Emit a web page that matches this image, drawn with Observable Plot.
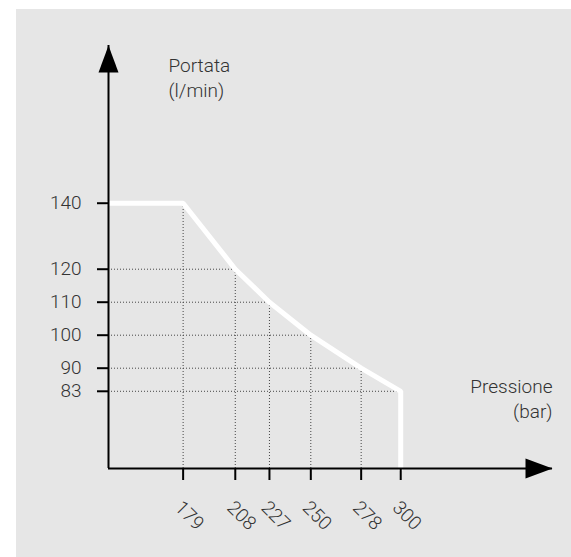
<!DOCTYPE html>
<html><head><meta charset="utf-8">
<script src="https://cdn.jsdelivr.net/npm/d3@7"></script>
<script src="https://cdn.jsdelivr.net/npm/@observablehq/plot@0.6"></script>
<style>
html,body{margin:0;padding:0;background:#fff;}
#chart{position:absolute;left:16px;top:9px;}
#chart svg text{font-weight:300}
</style></head><body><div id="chart"></div>
<script>
const pressione = [179, 208, 227, 250, 278, 300];
const portata = [140, 120, 110, 100, 90, 83];
const xTicks = [179, 208, 227, 250, 278, 300];
const yTicks = [140, 120, 110, 100, 90, 83];
const xTitle = ["Pressione", "(bar)"];
const yTitle = ["Portata", "(l/min)"];
const xDomain = [137.5, 384.4];
const yDomain = [59.6, 187.8];

const pts = pressione.map((p, i) => ({p, q: portata[i]}));
const curve = [{p: xDomain[0], q: portata[0]}, ...pts, {p: pressione[pressione.length - 1], q: yDomain[0]}];

const arrowUp = {draw(ctx) { ctx.moveTo(0, 0); ctx.lineTo(10, 27); ctx.lineTo(-10, 27); ctx.closePath(); }};
const arrowRight = {draw(ctx) { ctx.moveTo(0, 0); ctx.lineTo(-27, -10); ctx.lineTo(-27, 10); ctx.closePath(); }};

const chart = Plot.plot({
  width: 555,
  height: 548,
  marginLeft: 92,
  marginRight: 19,
  marginTop: 36,
  marginBottom: 89,
  style: {background: "#e6e6e6", fontFamily: "Roboto", fontSize: "19px", color: "#333", overflow: "visible"},
  x: {domain: xDomain, axis: null},
  y: {domain: yDomain, axis: null},
  marks: [
    Plot.ruleY(pts, {y: "q", x1: xDomain[0], x2: "p", stroke: "#444", strokeWidth: 1, strokeDasharray: "1,2"}),
    Plot.ruleX(pts, {x: "p", y1: yDomain[0], y2: "q", stroke: "#444", strokeWidth: 1, strokeDasharray: "1,2"}),
    Plot.line(curve, {x: "p", y: "q", stroke: "white", strokeWidth: 5, strokeLinejoin: "miter"}),
    Plot.ruleX([xDomain[0]], {y1: yDomain[0], y2: yDomain[1], stroke: "black", strokeWidth: 2}),
    Plot.ruleY([yDomain[0]], {x1: xDomain[0], x2: xDomain[1], stroke: "black", strokeWidth: 2}),
    Plot.dot([{p: xDomain[0], q: yDomain[1]}], {x: "p", y: "q", symbol: arrowUp, fill: "black", stroke: null}),
    Plot.dot([{p: xDomain[1], q: yDomain[0]}], {x: "p", y: "q", symbol: arrowRight, fill: "black", stroke: null}),
    Plot.axisY(yTicks, {anchor: "left", tickSize: 11, tickPadding: 16, stroke: "black", strokeWidth: 2, fill: "#333", fontSize: 19, label: null}),
    Plot.axisX(xTicks, {anchor: "bottom", tickSize: 12, tickFormat: () => "", stroke: "black", strokeWidth: 2, label: null}),
    Plot.axisX(xTicks, {anchor: "bottom", tickSize: 0, tickPadding: 36, dx: -5, tickRotate: 45, fill: "#333", fontSize: 19, label: null}),
    Plot.text([yTitle.join("\n")], {frameAnchor: "top-left", dx: 60, dy: 9, textAnchor: "start", lineAnchor: "top", lineHeight: 1.32, fontSize: 19, fill: "#333"}),
    Plot.text([xTitle.join("\n")], {frameAnchor: "bottom-right", dx: 0, dy: -93, textAnchor: "end", lineAnchor: "top", lineHeight: 1.3, fontSize: 19, fill: "#333"})
  ]
});
document.getElementById("chart").appendChild(chart);
</script></body></html>
